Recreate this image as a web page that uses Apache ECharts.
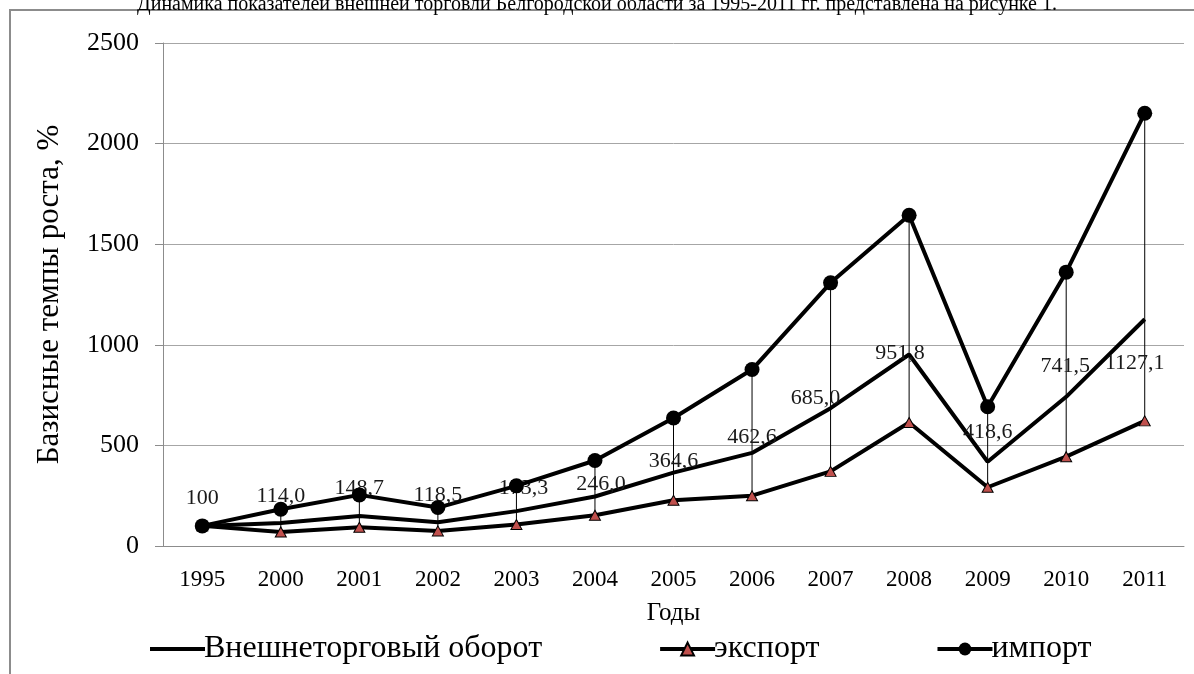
<!DOCTYPE html>
<html>
<head>
<meta charset="utf-8">
<script src="https://cdn.jsdelivr.net/npm/echarts@6/dist/echarts.min.js"></script>
<style>
  html, body { margin: 0; padding: 0; background: #fff; }
  #chart { width: 1194px; height: 674px; }
</style>
</head>
<body>
<div id="chart"></div>
<script>
var years = ['1995', '2000', '2001', '2002', '2003', '2004', '2005', '2006', '2007', '2008', '2009', '2010', '2011'];
// базисные темпы роста, %
var turnover = [100, 114.0, 148.7, 118.5, 173.3, 246.0, 364.6, 462.6, 685.0, 951.8, 418.6, 741.5, 1127.1];
var exportVals = [100, 70, 93, 75, 107, 153, 227, 250, 371, 614, 292, 444, 622];
var importVals = [100, 183, 254, 191, 299, 425, 636, 877, 1308, 1644, 692, 1361, 2151];
var yTicks = [0, 500, 1000, 1500, 2000, 2500];

// подписи расставлены вручную, как в исходной диаграмме
var labelShift = [[0, -28], [0, -27], [0, -28], [0, -27], [7, -23], [6, -12], [0, -11],
                  [0, -16], [-15, -10], [-9, -1], [0, -30], [-1, -31], [-10, 44]];

var FONT = "'Liberation Serif', 'Times New Roman', serif";

var myChart = echarts.init(document.getElementById('chart'));

var turnoverData = turnover.map(function (v, i) {
	return { value: v, label: { offset: labelShift[i] } };
});

var rangeData = years.map(function (y, i) {
	return [i, exportVals[i], importVals[i]];
});

myChart.setOption({
	animation: false,
	title: {
		text: 'Динамика показателей внешней торговли Белгородской области за 1995-2011 гг. представлена на рисунке 1.',
		left: 'center',
		top: -10,
		textStyle: { fontFamily: FONT, fontSize: 20, fontWeight: 'normal', color: '#000' }
	},
	graphic: [{
		type: 'rect',
		shape: { x: 10, y: 10, width: 1300, height: 800 },
		style: { fill: 'none', stroke: '#8c8c8c', lineWidth: 2 },
		z: -1
	}],
	grid: { left: 163, right: 10, top: 43, bottom: 128 },
	legend: {
		left: 143,
		top: 628,
		itemGap: 116,
		itemWidth: 55,
		itemHeight: 16,
		lineStyle: { width: 4, color: '#000' },
		textStyle: { fontFamily: FONT, fontSize: 32, color: '#000', padding: [0, 0, 0, -6] },
		data: [
			{ name: 'Внешнеторговый оборот', itemStyle: { opacity: 0 } },
			{ name: 'экспорт' },
			{ name: 'импорт' }
		]
	},
	xAxis: {
		type: 'category',
		data: years,
		name: 'Годы',
		nameLocation: 'middle',
		nameGap: 55,
		nameTextStyle: { fontFamily: FONT, fontSize: 25, color: '#000' },
		axisLine: { lineStyle: { color: '#8c8c8c', width: 1 } },
		axisTick: { show: false },
		axisLabel: { fontFamily: FONT, fontSize: 23, color: '#000', margin: 22 }
	},
	yAxis: {
		type: 'value',
		min: yTicks[0],
		max: yTicks[yTicks.length - 1],
		interval: 500,
		name: 'Базисные темпы роста, %',
		nameLocation: 'middle',
		nameGap: 98,
		nameTextStyle: { fontFamily: FONT, fontSize: 31, color: '#000' },
		axisLine: { show: true, lineStyle: { color: '#8c8c8c', width: 1 } },
		axisTick: { show: true, length: 8, lineStyle: { color: '#8c8c8c' } },
		axisLabel: {
			fontFamily: FONT, fontSize: 26, color: '#000', margin: 24,
			formatter: function (v) { return String(v); }
		},
		splitLine: { lineStyle: { color: '#a6a6a6', width: 1 } }
	},
	series: [
		{
			// линии от импорта до экспорта
			type: 'custom',
			silent: true,
			z: 1,
			renderItem: function (params, api) {
				var p1 = api.coord([api.value(0), api.value(1)]);
				var p2 = api.coord([api.value(0), api.value(2)]);
				return {
					type: 'line',
					shape: { x1: p1[0], y1: p1[1], x2: p2[0], y2: p2[1] },
					style: { stroke: '#000', lineWidth: 1 }
				};
			},
			data: rangeData
		},
		{
			name: 'Внешнеторговый оборот',
			type: 'line',
			z: 2,
			symbol: 'circle',
			symbolSize: 1,
			itemStyle: { color: '#000' },
			lineStyle: { color: '#000', width: 4 },
			label: {
				show: true,
				position: 'inside',
				fontFamily: FONT,
				fontSize: 22,
				color: '#1a1a1a',
				formatter: function (p) {
					return p.dataIndex === 0 ? String(p.value) : p.value.toFixed(1).replace('.', ',');
				}
			},
			data: turnoverData
		},
		{
			name: 'экспорт',
			type: 'line',
			z: 3,
			symbol: 'triangle',
			symbolSize: [11, 10],
			itemStyle: { color: '#c0504d', borderColor: '#000', borderWidth: 1 },
			lineStyle: { color: '#000', width: 4 },
			data: exportVals
		},
		{
			name: 'импорт',
			type: 'line',
			z: 4,
			symbol: 'circle',
			symbolSize: 15,
			itemStyle: { color: '#000' },
			lineStyle: { color: '#000', width: 4 },
			data: importVals
		}
	]
});
</script>
</body>
</html>
